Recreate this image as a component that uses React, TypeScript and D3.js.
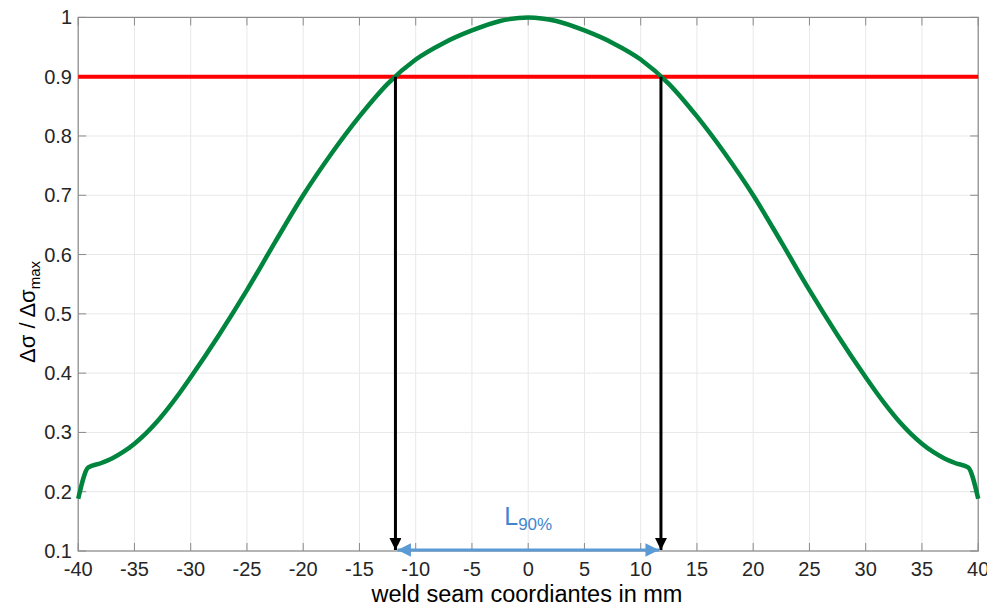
import React from 'react'
import * as d3 from 'd3'

// curve (x in mm, ratio)
const seamX = [-40, -39.1, -38, -37, -36, -35, -34, -33, -32, -31, -30, -27.5, -25, -22.5, -20, -17.5, -15, -12.5, -10, -7.5, -5, -2.5, 0,
  2.5, 5, 7.5, 10, 12.5, 15, 17.5, 20, 22.5, 25, 27.5, 30, 31, 32, 33, 34, 35, 36, 37, 38, 39.1, 40]
const ratio = [0.188, 0.241, 0.248, 0.256, 0.267, 0.281, 0.298, 0.318, 0.341, 0.366, 0.393, 0.464, 0.540, 0.621, 0.700, 0.770, 0.833, 0.888, 0.929, 0.957, 0.978, 0.994, 1.0,
  0.994, 0.978, 0.957, 0.929, 0.888, 0.833, 0.770, 0.700, 0.621, 0.540, 0.464, 0.393, 0.366, 0.341, 0.318, 0.298, 0.281, 0.267, 0.256, 0.248, 0.241, 0.188]

const xTicks = [-40, -35, -30, -25, -20, -15, -10, -5, 0, 5, 10, 15, 20, 25, 30, 35, 40]
const yTicks = [0.1, 0.2, 0.3, 0.4, 0.5, 0.6, 0.7, 0.8, 0.9, 1]

const threshold = 0.9
const l90 = [-11.8, 11.8]

const width = 987
const height = 609
const left = 78.2
const right = 978.2
const top = 17.4
const bottom = 551

const font = 'Arial, "Liberation Sans", sans-serif'

export default function App() {
  const x = d3.scaleLinear().domain([-40, 40]).range([left, right])
  const y = d3.scaleLinear().domain([0.1, 1]).range([bottom, top])

  const pts: [number, number][] = seamX.map((v, i) => [v, ratio[i]])
  const line = d3.line<[number, number]>()
    .x(d => x(d[0]))
    .y(d => y(d[1]))
    .curve(d3.curveMonotoneX)

  const tickLen = 8
  const blue = '#5b9bd5'

  return (
    <svg width={width} height={height} style={{ position: 'absolute', left: 0, top: 0, background: '#fff' }}>
      <defs>
        <marker id="blackHead" viewBox="0 0 10 10" refX="10" refY="5" markerWidth="4" markerHeight="4" orient="auto" markerUnits="strokeWidth">
          <path d="M0,0 L10,5 L0,10 z" fill="#000" />
        </marker>
        <marker id="blueHead" viewBox="0 0 10 10" refX="10" refY="5" markerWidth="4.5" markerHeight="4.5" orient="auto-start-reverse" markerUnits="strokeWidth">
          <path d="M0,0 L10,5 L0,10 z" fill={blue} />
        </marker>
      </defs>

      {/* grid */}
      {xTicks.map(t => (
        <line key={'gx' + t} x1={x(t)} x2={x(t)} y1={top} y2={bottom} stroke="#e8e8e8" strokeWidth={1} />
      ))}
      {yTicks.map(t => (
        <line key={'gy' + t} x1={left} x2={right} y1={y(t)} y2={y(t)} stroke="#e8e8e8" strokeWidth={1} />
      ))}

      {/* box + ticks */}
      <rect x={left} y={top} width={right - left} height={bottom - top} fill="none" stroke="#8a8a8a" strokeWidth={1.2} />
      {xTicks.map(t => (
        <g key={'tx' + t}>
          <line x1={x(t)} x2={x(t)} y1={bottom} y2={bottom - tickLen} stroke="#8a8a8a" />
          <line x1={x(t)} x2={x(t)} y1={top} y2={top + tickLen} stroke="#8a8a8a" />
          <text x={x(t)} y={576} textAnchor="middle" fontFamily={font} fontSize={20} fill="#262626">{t}</text>
        </g>
      ))}
      {yTicks.map(t => (
        <g key={'ty' + t}>
          <line x1={left} x2={left + tickLen} y1={y(t)} y2={y(t)} stroke="#8a8a8a" />
          <line x1={right} x2={right - tickLen} y1={y(t)} y2={y(t)} stroke="#8a8a8a" />
          <text x={72} y={y(t)} dy="0.35em" textAnchor="end" fontFamily={font} fontSize={20} fill="#262626">{t}</text>
        </g>
      ))}

      {/* threshold */}
      <line x1={left} x2={right} y1={y(threshold)} y2={y(threshold)} stroke="#ff0000" strokeWidth={4} />

      {/* curve */}
      <path d={line(pts) || ''} fill="none" stroke="#00853f" strokeWidth={4.5} strokeLinejoin="round" />

      {/* drop arrows */}
      {l90.map(v => (
        <line key={'ar' + v} x1={x(v)} x2={x(v)} y1={y(threshold)} y2={y(0.1) - 1} stroke="#000" strokeWidth={3} markerEnd="url(#blackHead)" />
      ))}

      {/* L90 span */}
      <line x1={x(l90[0]) + 2} x2={x(l90[1]) - 2} y1={y(0.1) - 1} y2={y(0.1) - 1} stroke={blue} strokeWidth={3}
        markerStart="url(#blueHead)" markerEnd="url(#blueHead)" />
      <text x={x(0)} y={525} textAnchor="middle" fontFamily={font} fill="#3f85cf">
        <tspan fontSize={25}>L</tspan>
        <tspan fontSize={17} dy={5}>90%</tspan>
      </text>

      {/* axis labels */}
      <text x={527} y={602} textAnchor="middle" fontFamily={font} fontSize={23.5} fill="#000">weld seam coordiantes in mm</text>
      <text transform={`translate(35,312) rotate(-90)`} textAnchor="middle" fontFamily={font} fontSize={22} fill="#000">
        <tspan>Δσ / Δσ</tspan>
        <tspan fontSize={15} dy={5}>max</tspan>
      </text>
    </svg>
  )
}
